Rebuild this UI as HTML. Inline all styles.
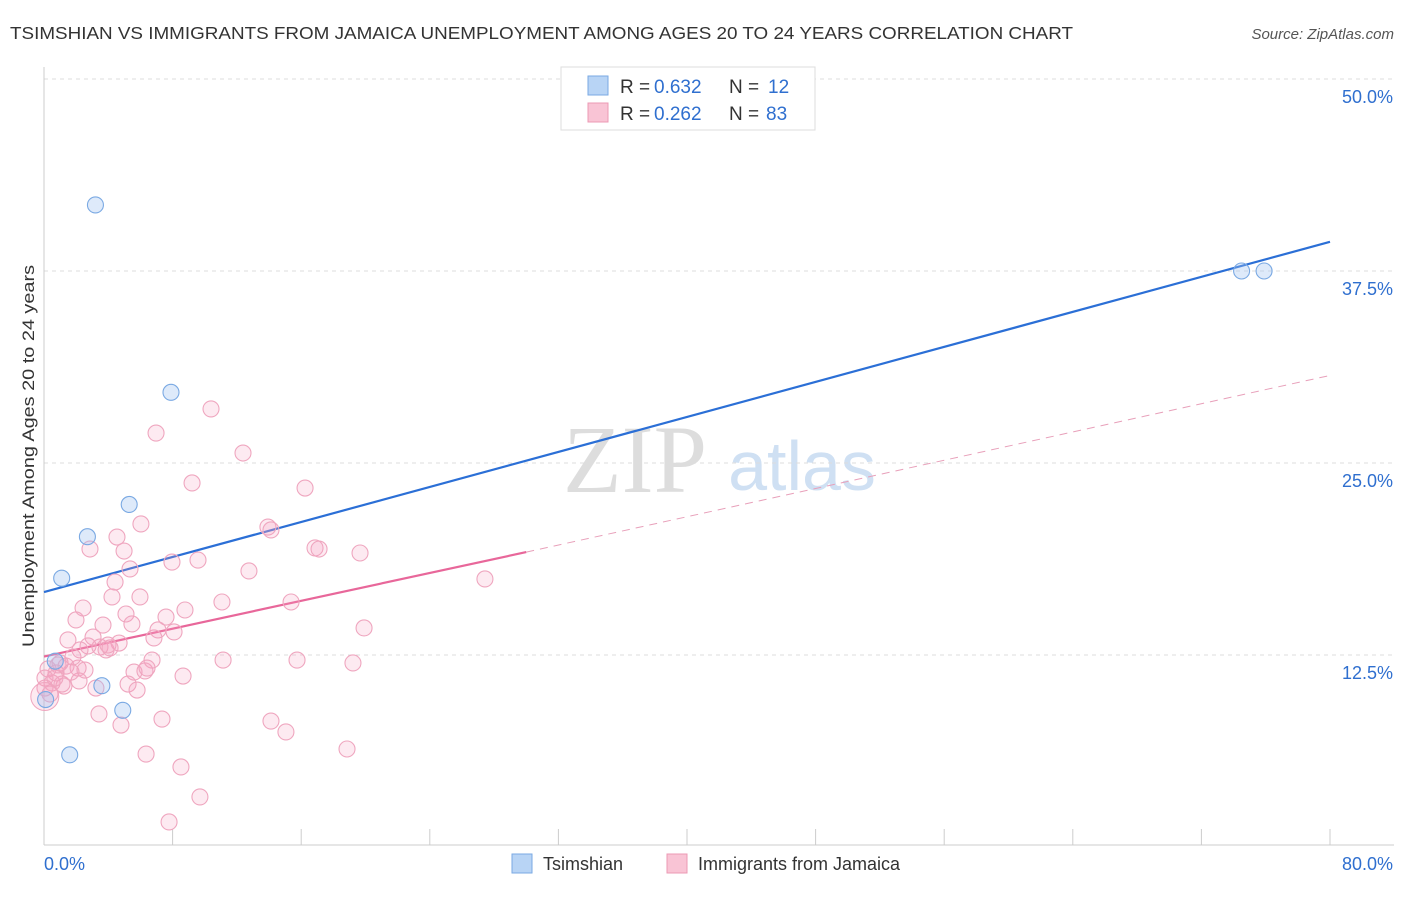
<!DOCTYPE html>
<html><head><meta charset="utf-8"><style>
body{margin:0;background:#fff;font-family:"Liberation Sans",sans-serif}
</style></head><body>
<svg width="1406" height="892" xmlns="http://www.w3.org/2000/svg" font-family="Liberation Sans, sans-serif">
<text x="10" y="39" font-size="17.5" fill="#333" textLength="1063" lengthAdjust="spacingAndGlyphs">TSIMSHIAN VS IMMIGRANTS FROM JAMAICA UNEMPLOYMENT AMONG AGES 20 TO 24 YEARS CORRELATION CHART</text>
<text x="1394" y="39" font-size="15" fill="#555" font-style="italic" text-anchor="end">Source: ZipAtlas.com</text>
<g>
<text x="635" y="492" font-size="96" fill="#ddd" font-family="Liberation Serif, serif" text-anchor="middle">ZIP</text>
<text x="802" y="490" font-size="70" fill="#cfe0f3" text-anchor="middle">atlas</text>
</g>
<g id="grid"></g>
<g id="axes"></g>
<text transform="translate(34,456) rotate(-90)" font-size="17" fill="#333" text-anchor="middle" textLength="382" lengthAdjust="spacingAndGlyphs">Unemployment Among Ages 20 to 24 years</text>
<g id="lines"></g>
<g id="pts"></g>
<g>
<rect x="561" y="67" width="254" height="63" fill="#fff" stroke="#ddd"/>
<rect x="588" y="76" width="20" height="19" fill="#b8d4f5" stroke="#7aa9e3"/>
<rect x="588" y="103" width="20" height="19" fill="#f9c4d5" stroke="#ec9ab4"/>
<text x="620" y="93" font-size="19" fill="#333">R =</text>
<text x="654" y="93" font-size="19" fill="#2f6fcf">0.632</text>
<text x="729" y="93" font-size="19" fill="#333">N =</text>
<text x="768" y="93" font-size="19" fill="#2f6fcf">12</text>
<text x="620" y="120" font-size="19" fill="#333">R =</text>
<text x="654" y="120" font-size="19" fill="#2f6fcf">0.262</text>
<text x="729" y="120" font-size="19" fill="#333">N =</text>
<text x="766" y="120" font-size="19" fill="#2f6fcf">83</text>
</g>
<g>
<rect x="512" y="854" width="20" height="19" fill="#b8d4f5" stroke="#7aa9e3"/>
<text x="543" y="870" font-size="18" fill="#333">Tsimshian</text>
<rect x="667" y="854" width="20" height="19" fill="#f9c4d5" stroke="#ec9ab4"/>
<text x="698" y="870" font-size="18" fill="#333">Immigrants from Jamaica</text>
</g>
</svg>
<script>
const yTicks=[12.5,25,37.5,50];
const yTickLabels=["12.5%","25.0%","37.5%","50.0%"];
const xTickLabels=["0.0%","80.0%"];
const blueX=[3.2,7.9,5.3,2.7,1.1,0.7,3.6,4.9,1.6,0.1,74.5,75.9];
const blueY=[41.8,29.6,22.3,20.2,17.5,12.1,10.5,8.9,6.0,9.6,37.5,37.5];
const pinkPx=[[211,409],[156,433],[243,453],[192,483],[305,488],[141,524],[268,527],[271,530],[117,537],[90,549],[124,551],[315,548],[319,549],[360,553],[198,560],[172,562],[130,569],[249,571],[485,579],[115,582],[112,597],[140,597],[222,602],[291,602],[83,608],[126,614],[185,610],[166,617],[76,620],[103,625],[132,624],[158,630],[174,632],[364,628],[68,640],[93,637],[154,638],[119,643],[88,646],[100,647],[106,650],[110,648],[80,650],[152,660],[223,660],[297,660],[353,663],[60,663],[66,666],[78,668],[85,670],[134,672],[145,671],[147,668],[48,669],[56,673],[183,676],[52,683],[64,686],[79,681],[96,688],[128,684],[137,690],[45,688],[50,694],[99,714],[162,719],[271,721],[121,725],[286,732],[347,749],[146,754],[181,767],[200,797],[169,822],[58,665],[73,657],[108,645],[45,678],[62,684],[55,678],[71,672]];
const pinkX=pinkPx.map(p=>+((p[0]-44)/16.075).toFixed(2));
const pinkY=pinkPx.map(p=>+((847-p[1])/15.36).toFixed(2));
const blueLine=[[0,16.6],[80,39.4]];
const pinkLine=[[0,12.4],[30,19.2],[80,30.7]];
const X=v=>44+v*16.075, Y=v=>847-v*15.36;
const NS="http://www.w3.org/2000/svg";
function mk(t,a,p){const e=document.createElementNS(NS,t);for(const k in a)e.setAttribute(k,a[k]);document.getElementById(p).appendChild(e);return e;}
yTicks.forEach((t,i)=>{
 const l=mk('line',{x1:44,x2:1394,y1:Y(t),y2:Y(t),stroke:'#ddd','stroke-dasharray':'4,4'},'grid');
 
 
 const tx=mk('text',{x:1393,y:Y(t)+24,'font-size':18,fill:'#2f6fcf','text-anchor':'end'},'axes');
 tx.textContent=yTickLabels[i];
 
 
});
mk('line',{x1:44,x2:44,y1:67,y2:845,stroke:'#ccc'},'axes');
mk('line',{x1:44,x2:1394,y1:845,y2:845,stroke:'#ccc'},'axes');
for(let i=0;i<=10;i++){mk('line',{x1:X(i*8),x2:X(i*8),y1:829,y2:845,stroke:'#ccc'},'axes');}
let t0=mk('text',{x:44,y:870,'font-size':18,fill:'#2f6fcf'},'axes');t0.textContent=xTickLabels[0];


let t1=mk('text',{x:1393,y:870,'font-size':18,fill:'#2f6fcf','text-anchor':'end'},'axes');t1.textContent=xTickLabels[1];


pinkX.forEach((x,i)=>{const c=mk('circle',{cx:X(x),cy:Y(pinkY[i]),r:8,fill:'rgba(244,160,190,0.22)',stroke:'#efa6bf','stroke-width':1.1},'pts');
 
 });
mk('circle',{cx:X(0.05),cy:Y(9.8),r:14,fill:'rgba(244,160,190,0.22)',stroke:'#efa6bf'},'pts');
blueX.forEach((x,i)=>{const c=mk('circle',{cx:X(x),cy:Y(blueY[i]),r:8,fill:'rgba(160,195,240,0.35)',stroke:'#7aa9e3','stroke-width':1.1},'pts');
 
 });
let bl=mk('line',{x1:X(blueLine[0][0]),y1:Y(blueLine[0][1]),x2:X(blueLine[1][0]),y2:Y(blueLine[1][1]),stroke:'#2b6fd6','stroke-width':2.2},'lines');


let pl=mk('line',{x1:X(pinkLine[0][0]),y1:Y(pinkLine[0][1]),x2:X(pinkLine[1][0]),y2:Y(pinkLine[1][1]),stroke:'#e8679a','stroke-width':2.2},'lines');


let pd=mk('line',{x1:X(pinkLine[1][0]),y1:Y(pinkLine[1][1]),x2:X(pinkLine[2][0]),y2:Y(pinkLine[2][1]),stroke:'#e8a0ba','stroke-width':1,'stroke-dasharray':'8,6'},'lines');


</script>
</body></html>
